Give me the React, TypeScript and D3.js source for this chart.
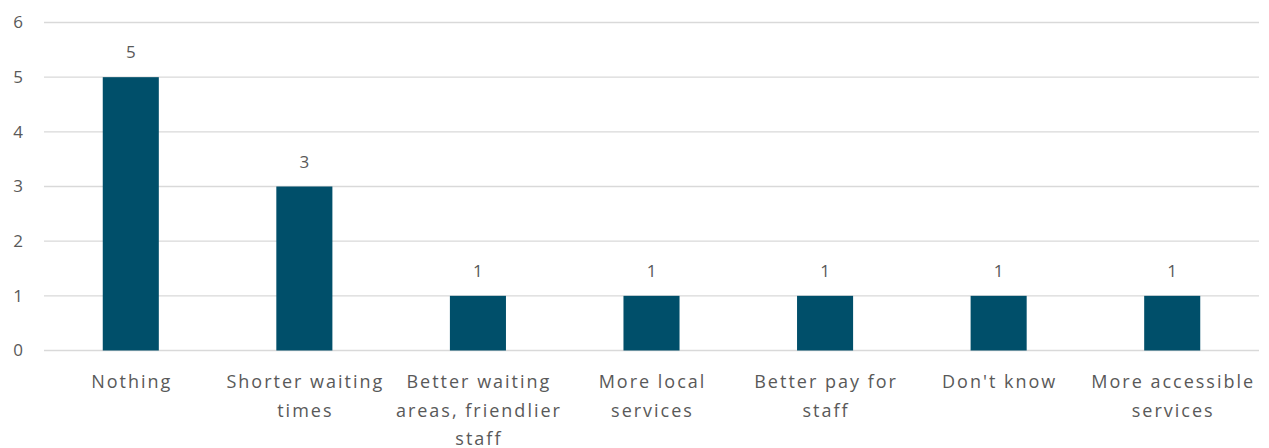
import React from "react";
import * as d3 from "d3";

const categories = [
  "Nothing",
  "Shorter waiting times",
  "Better waiting areas, friendlier staff",
  "More local services",
  "Better pay for staff",
  "Don't know",
  "More accessible services",
];
const labelLines = [
  ["Nothing"],
  ["Shorter waiting", "times"],
  ["Better waiting", "areas, friendlier", "staff"],
  ["More local", "services"],
  ["Better pay for", "staff"],
  ["Don't know"],
  ["More accessible", "services"],
];
const values = [5, 3, 1, 1, 1, 1, 1];
const yTicks = [0, 1, 2, 3, 4, 5, 6];

const W = 1269;
const H = 448;
const margin = { left: 44, right: 10, top: 22.5, bottom: 97.5 };
const FONT = "'Open Sans', sans-serif";
const TEXT = "#595959";

export default function App() {
  const x = d3
    .scaleBand<string>()
    .domain(categories)
    .range([margin.left, W - margin.right])
    .paddingInner(0.677)
    .paddingOuter(0.3385);
  const y = d3.scaleLinear().domain([0, 6]).range([H - margin.bottom, margin.top]);

  return (
    <svg
      width={W}
      height={H}
      style={{ position: "absolute", left: 0, top: 0, background: "#fff" }}
      fontFamily={FONT}
    >
      {yTicks.map((t) => (
        <g key={t}>
          <line
            x1={margin.left}
            x2={W - margin.right}
            y1={y(t)}
            y2={y(t)}
            stroke="#d9d9d9"
            strokeWidth={1.3}
          />
          <text x={23} y={y(t)} dy="0.35em" textAnchor="end" fontSize={17} fill={TEXT}>
            {t}
          </text>
        </g>
      ))}
      {categories.map((c, i) => {
        const bx = x(c)!;
        const bw = x.bandwidth();
        const cx = bx + bw / 2;
        return (
          <g key={c}>
            <rect x={bx} y={y(values[i])} width={bw} height={y(0) - y(values[i])} fill="#004F6A" />
            <text x={cx} y={y(values[i]) - 19} textAnchor="middle" fontSize={17} fill={TEXT}>
              {values[i]}
            </text>
            {labelLines[i].map((ln, j) => (
              <text
                key={j}
                x={cx + 1}
                y={388 + j * 28.5}
                textAnchor="middle"
                fontSize={18}
                letterSpacing={2}
                fill={TEXT}
              >
                {ln}
              </text>
            ))}
          </g>
        );
      })}
    </svg>
  );
}
